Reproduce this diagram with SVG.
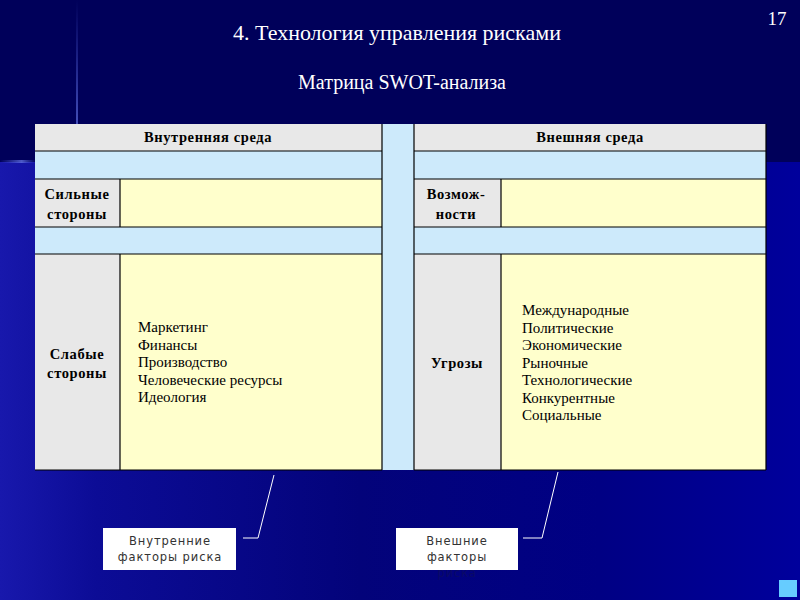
<svg xmlns="http://www.w3.org/2000/svg" width="800" height="600" viewBox="0 0 800 600">
<defs>
<linearGradient id="bgLow" x1="0" y1="0" x2="1" y2="0">
<stop offset="0" stop-color="#1818ac"/>
<stop offset="0.12" stop-color="#0c0c96"/>
<stop offset="0.45" stop-color="#03037a"/>
<stop offset="0.75" stop-color="#000084"/>
<stop offset="1" stop-color="#00009c"/>
</linearGradient>
<linearGradient id="glowH" x1="0" y1="0" x2="1" y2="0">
<stop offset="0" stop-color="#4a5ad8" stop-opacity="0"/>
<stop offset="0.6" stop-color="#6070e0" stop-opacity="0.8"/>
<stop offset="1" stop-color="#4a5ad8" stop-opacity="0"/>
</linearGradient>
<linearGradient id="glowV" x1="0" y1="0" x2="0" y2="1">
<stop offset="0" stop-color="#4a5ad8" stop-opacity="0"/>
<stop offset="1" stop-color="#6070e0" stop-opacity="0.7"/>
</linearGradient>
</defs>
<style>
.hdr{fill:#e8e8e8}
.blue{fill:#cdeafb}
.yel{fill:#ffffcc}
.ln{stroke:#000;stroke-width:1.2;fill:none}
.bt{font-family:"Liberation Serif","DejaVu Serif",serif;font-weight:bold;font-size:14.5px;letter-spacing:0.6px;fill:#000;text-anchor:middle}
.lt{font-family:"Liberation Serif","DejaVu Serif",serif;font-size:15px;fill:#000}
.ttl{font-family:"Liberation Serif","DejaVu Serif",serif;fill:#fff;text-anchor:middle}
.ct{font-family:"DejaVu Sans","Liberation Sans",sans-serif;font-size:11.5px;fill:#333;text-anchor:middle;letter-spacing:0.9px}
.call{stroke:#fff;stroke-width:1;fill:none}
</style>
<!-- background -->
<rect x="0" y="0" width="800" height="600" fill="#00005e"/>
<rect x="0" y="162" width="800" height="438" fill="url(#bgLow)"/>
<rect x="0" y="0" width="800" height="162" fill="#00005a"/>
<rect x="0" y="160" width="36" height="3" fill="url(#glowH)"/>
<rect x="76" y="0" width="2" height="124" fill="url(#glowV)"/>
<rect x="779" y="580" width="18" height="17" fill="#66ccff"/>

<!-- titles -->
<text class="ttl" x="397" y="40" font-size="22">4. Технология управления рисками</text>
<text class="ttl" x="402" y="89" font-size="20">Матрица SWOT-анализа</text>
<text class="ttl" x="777" y="25" font-size="19">17</text>

<!-- matrix backgrounds -->
<g id="matrix">
<rect class="blue" x="35" y="124" width="731" height="346"/>
</g>
<g id="internal-header">
<rect class="hdr" x="35" y="124" width="347" height="27"/>
<text class="bt" x="208" y="142">Внутренняя среда</text>
</g>
<g id="external-header">
<rect class="hdr" x="414" y="124" width="352" height="27"/>
<text class="bt" x="590" y="142">Внешняя среда</text>
</g>
<g id="strengths">
<rect class="hdr" x="35" y="179" width="85" height="48"/>
<rect class="yel" x="120" y="179" width="262" height="48"/>
<text class="bt" x="77" y="199">Сильные</text>
<text class="bt" x="77" y="219">стороны</text>
</g>
<g id="opportunities">
<rect class="hdr" x="414" y="179" width="87" height="48"/>
<rect class="yel" x="501" y="179" width="265" height="48"/>
<text class="bt" x="456" y="199">Возмож-</text>
<text class="bt" x="456" y="219">ности</text>
</g>
<g id="weaknesses">
<rect class="hdr" x="35" y="254" width="85" height="216"/>
<rect class="yel" x="120" y="254" width="262" height="216"/>
<text class="bt" x="77" y="359">Слабые</text>
<text class="bt" x="77" y="378">стороны</text>
<text class="lt" x="138" y="332">Маркетинг</text>
<text class="lt" x="138" y="349.5">Финансы</text>
<text class="lt" x="138" y="367">Производство</text>
<text class="lt" x="138" y="384.5">Человеческие ресурсы</text>
<text class="lt" x="138" y="402">Идеология</text>
</g>
<g id="threats">
<rect class="hdr" x="414" y="254" width="87" height="216"/>
<rect class="yel" x="501" y="254" width="265" height="216"/>
<text class="bt" x="457" y="368">Угрозы</text>
<text class="lt" x="522" y="315">Международные</text>
<text class="lt" x="522" y="332.5">Политические</text>
<text class="lt" x="522" y="350">Экономические</text>
<text class="lt" x="522" y="367.5">Рыночные</text>
<text class="lt" x="522" y="385">Технологические</text>
<text class="lt" x="522" y="402.5">Конкурентные</text>
<text class="lt" x="522" y="420">Социальные</text>
</g>
<!-- grid lines -->
<g id="gridlines">
<path class="ln" d="M35 151H382M414 151H766M35 179H382M414 179H766M35 227H382M414 227H766M35 254H382M414 254H766M35 470H382M414 470H766"/>
<path class="ln" d="M382 124V470M414 124V470M766 124V470M120 179V227M120 254V470M501 179V227M501 254V470"/>
</g>

<!-- callouts -->
<g id="connectors">
<polyline class="call" points="243,538 258,538 274,475"/>
<polyline class="call" points="523,538 542,538 558,472"/>
</g>
<g id="internal-factors">
<rect x="103" y="528" width="133" height="42" fill="#fff"/>
<text class="ct" x="170" y="545">Внутренние</text>
<text class="ct" x="170" y="561">факторы риска</text>
</g>
<g id="external-factors">
<rect x="396" y="528" width="122" height="42" fill="#fff"/>
<text class="ct" x="457" y="545">Внешние</text>
<text class="ct" x="457" y="561">факторы</text>
<text class="ct" x="457" y="577" style="fill:#0a0a66">риска</text>
</g>
</svg>
